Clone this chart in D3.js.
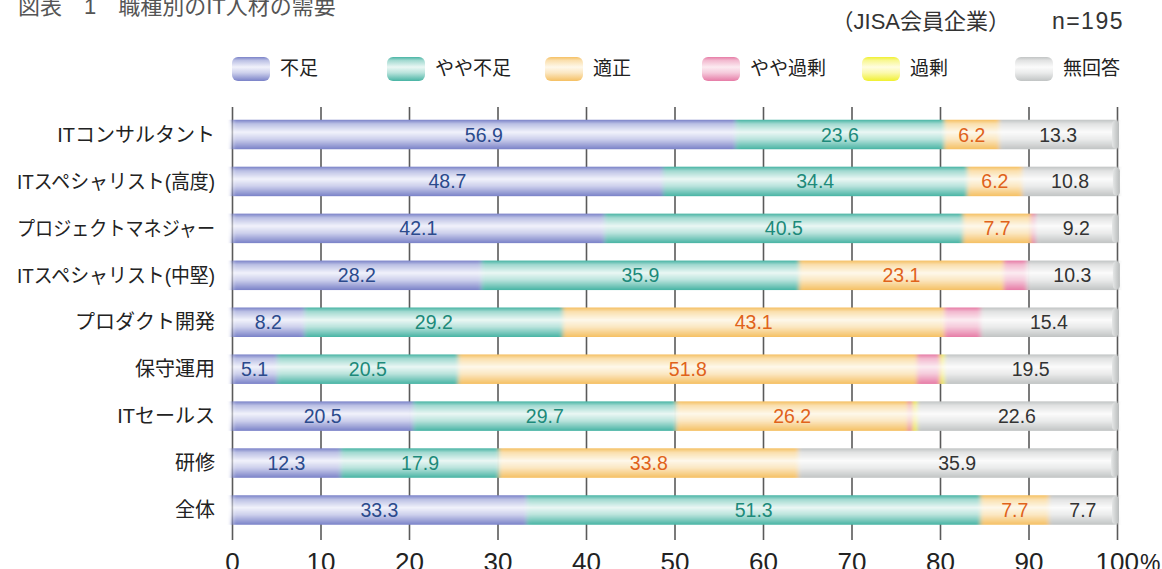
<!DOCTYPE html>
<html lang="ja">
<head>
<meta charset="utf-8">
<script src="https://cdn.jsdelivr.net/npm/d3@7"></script>
<style>
  html, body { margin: 0; padding: 0; background: #ffffff; }
  svg { display: block; font-family: "Liberation Sans", "Noto Sans CJK JP", sans-serif; }
</style>
</head>
<body>
<svg id="chart" width="1162" height="569"></svg>
<script>
// 職種別のIT人材の需要 (JISA会員企業, n=195) — 単位: %
const categories = ["ITコンサルタント", "ITスペシャリスト(高度)", "プロジェクトマネジャー", "ITスペシャリスト(中堅)",
                    "プロダクト開発", "保守運用", "ITセールス", "研修", "全体"];
const shortage       = [56.9, 48.7, 42.1, 28.2,  8.2,  5.1, 20.5, 12.3, 33.3];
const slightShortage = [23.6, 34.4, 40.5, 35.9, 29.2, 20.5, 29.7, 17.9, 51.3];
const adequate       = [ 6.2,  6.2,  7.7, 23.1, 43.1, 51.8, 26.2, 33.8,  7.7];
const slightSurplus  = [ 0.0,  0.0,  0.5,  2.6,  4.1,  2.6,  0.5,  0.0,  0.0];
const surplus        = [ 0.0,  0.0,  0.0,  0.0,  0.0,  0.5,  0.5,  0.0,  0.0];
const noAnswer       = [13.3, 10.8,  9.2, 10.3, 15.4, 19.5, 22.6, 35.9,  7.7];
const seriesNames    = ["不足", "やや不足", "適正", "やや過剰", "過剰", "無回答"];
const tickValues     = [0, 10, 20, 30, 40, 50, 60, 70, 80, 90, 100];

const seriesData = [shortage, slightShortage, adequate, slightSurplus, surplus, noAnswer];
const keys = ["shortage", "slightShortage", "adequate", "slightSurplus", "surplus", "noAnswer"];

// rows for d3.stack
const rows = categories.map((c, i) => {
  const r = { category: c };
  keys.forEach((k, j) => r[k] = seriesData[j][i]);
  return r;
});

// edge / highlight colours for the cylinder look, plus value-label colours
const edge  = ["#7a82c8", "#48b4a4", "#f5c063", "#e67ca6", "#f0f030", "#c1c4c4"];
const light = ["#f1f2fb", "#eaf7f4", "#fef8ea", "#fcebf1", "#fffde0", "#fbfbfb"];
const labelColor = ["#2b4a8c", "#1d8a7a", "#e0621a", null, null, "#333333"];

const svg = d3.select("#chart");
const defs = svg.append("defs");

keys.forEach((k, i) => {
  const g = defs.append("linearGradient")
    .attr("id", "grad-" + k).attr("x1", 0).attr("y1", 0).attr("x2", 0).attr("y2", 1);
  g.append("stop").attr("offset", "0%").attr("stop-color", edge[i]);
  g.append("stop").attr("offset", "14%").attr("stop-color", d3.interpolateRgb(edge[i], light[i])(0.55));
  g.append("stop").attr("offset", "42%").attr("stop-color", light[i]);
  g.append("stop").attr("offset", "66%").attr("stop-color", d3.interpolateRgb(edge[i], light[i])(0.7));
  g.append("stop").attr("offset", "100%").attr("stop-color", edge[i]);
});

// horizontal-only softening of the segment joins
const soft = defs.append("filter").attr("id", "soft")
  .attr("x", "-2%").attr("y", "-10%").attr("width", "104%").attr("height", "120%");
soft.append("feGaussianBlur").attr("stdDeviation", "2.2 0.3");

const x = d3.scaleLinear().domain([0, 100]).range([232, 1117]);
const y = d3.scalePoint().domain(categories).range([134.5, 510]);
const barH = 29.5;

// title and sample note
svg.append("text").attr("x", 18).attr("y", 14)
  .attr("font-size", 22).attr("fill", "#555")
  .text("図表　1　職種別のIT人材の需要");
svg.append("text").attr("x", 1010).attr("y", 29).attr("text-anchor", "end")
  .attr("font-size", 22).attr("fill", "#333")
  .text("（JISA会員企業）");
svg.append("text").attr("x", 1124).attr("y", 29).attr("text-anchor", "end")
  .attr("font-size", 23).attr("letter-spacing", 1.5).attr("fill", "#333")
  .text("n=195");

// legend
const legendX = [232, 387, 545, 702, 862, 1015];
const legend = svg.append("g");
seriesNames.forEach((name, i) => {
  legend.append("rect")
    .attr("x", legendX[i]).attr("y", 57).attr("width", 38).attr("height", 24)
    .attr("rx", 6).attr("fill", `url(#grad-${keys[i]})`);
  legend.append("text")
    .attr("x", legendX[i] + 48).attr("y", 75)
    .attr("font-size", 19).attr("fill", "#222").text(name);
});

// gridlines and x axis
const axis = svg.append("g").attr("transform", "translate(0,540)")
  .call(d3.axisBottom(x).tickValues(tickValues).tickSize(-(540 - 107)).tickPadding(13)
    .tickFormat(d => d));
axis.select(".domain").remove();
axis.selectAll(".tick line").attr("stroke", "#5a5a5a").attr("stroke-width", 1.6);
axis.selectAll(".tick text").attr("font-size", 26).attr("fill", "#222")
  .attr("font-family", "Liberation Sans, sans-serif");
// last tick: keep "100" centred on its tick and let the percent sign trail after it
axis.selectAll(".tick text").filter(d => d === 100)
  .attr("text-anchor", "start").attr("x", -22)
  .append("tspan").attr("font-size", 23).attr("dx", 1).text("%");

// category labels (long ones are condensed to stay inside the left margin)
svg.append("g").selectAll("text").data(categories).join("text")
  .attr("x", 215).attr("y", d => y(d)).attr("dy", "0.36em")
  .attr("text-anchor", "end").attr("font-size", 20).attr("fill", "#222")
  .text(d => d)
  .each(function () {
    if (this.getComputedTextLength() > 200) {
      d3.select(this).attr("textLength", 198).attr("lengthAdjust", "spacingAndGlyphs");
    }
  });

// stacked bars
const stacked = d3.stack().keys(keys)(rows);
const bars = svg.append("g").attr("filter", "url(#soft)");
stacked.forEach((layer, i) => {
  bars.append("g").selectAll("rect").data(layer).join("rect")
    .attr("x", d => x(d[0]))
    .attr("y", d => y(d.data.category) - barH / 2)
    .attr("width", d => Math.max(0, x(d[1]) - x(d[0])))
    .attr("height", barH)
    .attr("fill", `url(#grad-${keys[i]})`);
});
// rounded grey cap at the right end of each bar
const capGrad = defs.append("linearGradient").attr("id", "cap").attr("x1", 0).attr("x2", 1);
capGrad.append("stop").attr("offset", "0%").attr("stop-color", "#e4e6e6");
capGrad.append("stop").attr("offset", "100%").attr("stop-color", "#b9bcbc");
svg.append("g").selectAll("rect").data(stacked[stacked.length - 1]).join("rect")
  .attr("x", d => x(d[1]) - 5)
  .attr("y", d => y(d.data.category) - barH / 2 + 1)
  .attr("width", 7).attr("height", barH - 2).attr("rx", 3.5)
  .attr("fill", "url(#cap)");

// value labels for the main series
const labels = svg.append("g").attr("font-size", 19.5).attr("text-anchor", "middle");
stacked.forEach((layer, i) => {
  if (!labelColor[i]) return;
  labels.append("g").selectAll("text").data(layer.filter(d => d.data[keys[i]] > 0)).join("text")
    .attr("x", d => (x(d[0]) + x(d[1])) / 2)
    .attr("y", d => y(d.data.category))
    .attr("dy", "0.36em")
    .attr("fill", labelColor[i])
    .text(d => d.data[keys[i]].toFixed(1));
});
</script>
</body>
</html>
